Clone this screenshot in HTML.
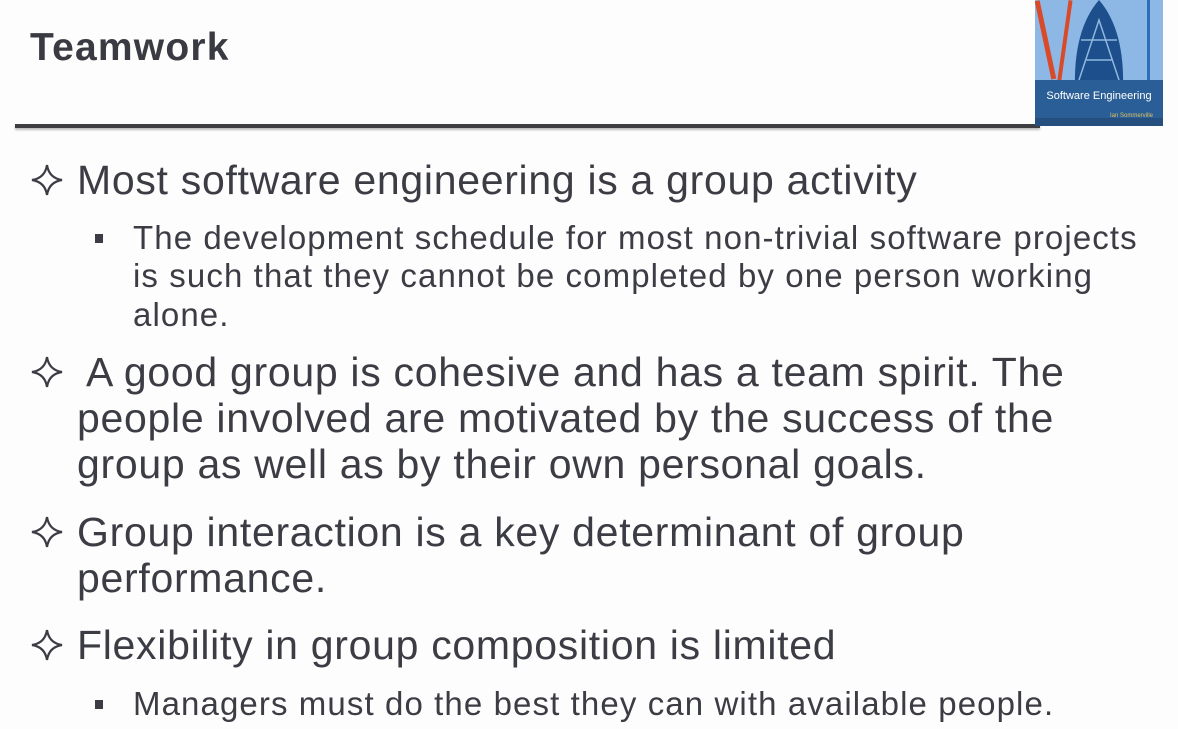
<!DOCTYPE html>
<html><head><meta charset="utf-8"><style>
html,body{margin:0;padding:0;}
body{width:1178px;height:729px;background:#fdfdfd;position:relative;overflow:hidden;font-family:"Liberation Sans",Arial,sans-serif;color:#3c3c44;}
.l{position:absolute;white-space:nowrap;}
.m{font-size:41px;height:46px;line-height:46px;left:77px;letter-spacing:0.7px;}
.s{font-size:33px;height:38px;line-height:38px;left:133px;letter-spacing:1.1px;}
.star{position:absolute;left:31px;width:32px;height:32px;}
.sq{position:absolute;left:95px;width:8px;height:9px;background:#3c3c44;}
</style></head><body>
<div class="l" style="left:30px;top:26px;font-size:39px;font-weight:bold;color:#3a3a42;line-height:44px;letter-spacing:1.2px;">Teamwork</div>
<div style="position:absolute;left:15px;top:124px;width:1025px;height:4px;background:#3d3d42;box-shadow:0 2px 2px #bbb;"></div>
<svg style="position:absolute;left:1035px;top:0" width="128" height="126" viewBox="0 0 128 126">
<rect width="128" height="126" fill="#7eaee0"/>
<rect y="0" width="128" height="80" fill="#8db8e6"/>
<path d="M40 90 Q38 30 64 0 Q90 30 88 90Z" fill="#1d4f8c"/>
<path d="M44 80 L64 20 L84 80 M50 60 L78 60 M46 40 L82 40" stroke="#8fb8e0" stroke-width="1.5" fill="none"/>
<rect x="8" y="0" width="5" height="80" fill="#d94a2a" transform="rotate(-12 10 40)"/>
<rect x="28" y="0" width="4" height="90" fill="#d94a2a" transform="rotate(8 30 40)"/>
<rect x="112" y="0" width="3" height="85" fill="#2a6fb8"/>
<rect y="80" width="128" height="46" fill="#2a5e96"/>
<rect y="118" width="128" height="8" fill="#244f7e"/>
<text x="64" y="99" text-anchor="middle" font-family="Liberation Sans" font-size="11" fill="#fff">Software Engineering</text>
<text x="118" y="117" text-anchor="end" font-family="Liberation Sans" font-size="6" fill="#e0c060">Ian Sommerville</text>
</svg>

<svg class="star" style="top:164px" viewBox="0 0 32 32"><path d="M16 1 Q18 14 31 16 Q18 18 16 31 Q14 18 1 16 Q14 14 16 1Z" fill="none" stroke="#3c3c44" stroke-width="2.2"/></svg>
<div class="l m" style="top:157px">Most software engineering is a group activity</div>
<div class="sq" style="top:234px"></div>
<div class="l s" style="top:219px">The development schedule for most non-trivial software projects</div>
<div class="l s" style="top:257px">is such that they cannot be completed by one person working</div>
<div class="l s" style="top:296px">alone.</div>

<svg class="star" style="top:356px" viewBox="0 0 32 32"><path d="M16 1 Q18 14 31 16 Q18 18 16 31 Q14 18 1 16 Q14 14 16 1Z" fill="none" stroke="#3c3c44" stroke-width="2.2"/></svg>
<div class="l m" style="top:349px;left:86px">A good group is cohesive and has a team spirit. The</div>
<div class="l m" style="top:395px">people involved are motivated by the success of the</div>
<div class="l m" style="top:441px">group as well as by their own personal goals.</div>

<svg class="star" style="top:516px" viewBox="0 0 32 32"><path d="M16 1 Q18 14 31 16 Q18 18 16 31 Q14 18 1 16 Q14 14 16 1Z" fill="none" stroke="#3c3c44" stroke-width="2.2"/></svg>
<div class="l m" style="top:509px">Group interaction is a key determinant of group</div>
<div class="l m" style="top:555px">performance.</div>

<svg class="star" style="top:629px" viewBox="0 0 32 32"><path d="M16 1 Q18 14 31 16 Q18 18 16 31 Q14 18 1 16 Q14 14 16 1Z" fill="none" stroke="#3c3c44" stroke-width="2.2"/></svg>
<div class="l m" style="top:622px">Flexibility in group composition is limited</div>
<div class="sq" style="top:700px"></div>
<div class="l s" style="top:685px">Managers must do the best they can with available people.</div>
</body></html>
